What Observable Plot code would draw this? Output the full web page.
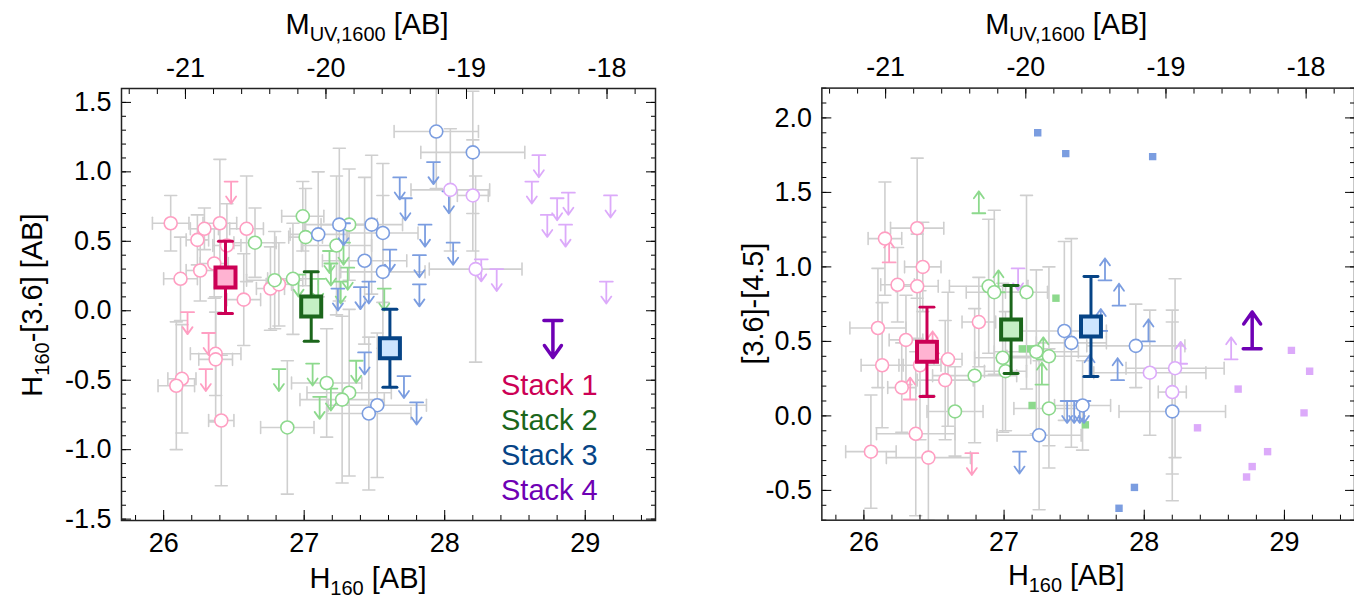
<!DOCTYPE html>
<html><head><meta charset="utf-8">
<script src="https://cdn.jsdelivr.net/npm/d3@7"></script>
<script src="https://cdn.jsdelivr.net/npm/@observablehq/plot@0.6"></script>
<style>
body{margin:0;background:#fff;overflow:hidden;width:1354px;height:601px;position:relative;font-family:"Liberation Sans",Arial,sans-serif}
#left{position:absolute;left:0;top:0}
#right{position:absolute;left:677px;top:0}
</style></head><body><div id="left"></div><div id="right"></div>
<script>
// ---------- data ----------
// [H160, value, xerr, yerr]  circles with error bars
// [H160, value]              limits (arrows) and squares
const M_OFFSET = 47.155; // H160 - M_UV,1600
const xDomain = [25.7, 29.5];
const xMajor = [26, 27, 28, 29];
const mMajor = [-21, -20, -19, -18];
const yDomainL = [-1.51, 1.6];
const yMajorL = [-1.5, -1.0, -0.5, 0.0, 0.5, 1.0, 1.5];
const yDomainR = [-0.7, 2.2];
const yMajorR = [-0.5, 0.0, 0.5, 1.0, 1.5, 2.0];
const stackNames = ["Stack 1", "Stack 2", "Stack 3", "Stack 4"];

const L_pinkCircles = [
 [26.05,0.63,0.13,0.20],[26.29,0.59,0.10,0.15],[26.24,0.51,0.08,0.18],[26.40,0.63,0.12,0.46],
 [26.59,0.59,0.12,0.38],[26.12,0.23,0.12,0.30],[26.26,0.29,0.10,0.22],[26.36,0.34,0.10,0.25],
 [26.57,0.08,0.12,0.33],[26.76,0.16,0.10,0.30],[26.82,0.19,0.09,0.30],[26.37,-0.31,0.18,0.30],
 [26.37,-0.35,0.12,0.45],[26.13,-0.49,0.10,0.39],[26.09,-0.54,0.13,0.46],[26.41,-0.79,0.09,0.47],
 [26.45,0.47,0.10,0.30]];
const L_pinkUpper = [[26.48,0.93],[26.17,-0.01],[26.32,-0.16],[26.30,-0.42]];
const L_greenCircles = [
 [26.99,0.68,0.15,0.25],[27.01,0.53,0.12,0.35],[26.65,0.49,0.15,0.25],[27.32,0.62,0.20,0.40],
 [27.23,0.47,0.25,0.50],[26.79,0.22,0.20,0.35],[26.92,0.23,0.18,0.40],[27.16,-0.52,0.25,0.39],
 [27.32,-0.59,0.30,0.60],[27.27,-0.64,0.30,0.60],[26.88,-0.84,0.19,0.48]];
const L_greenUpper = [[27.18,0.43],[27.28,0.49],[27.19,0.34],[27.31,0.31],[27.26,0.21],[26.96,0.26],
 [27.10,0.23],[27.57,0.16],[26.82,-0.42],[27.06,-0.38],[27.11,-0.62],[27.19,-0.56],[27.37,-0.36]];
const L_blueCircles = [
 [27.10,0.55,0.20,0.45],[27.25,0.62,0.25,0.55],[27.48,0.62,0.22,0.50],[27.56,0.56,0.25,0.50],
 [27.43,0.36,0.30,0.60],[27.56,0.28,0.30,0.55],[27.94,1.29,0.30,0.41],[28.20,1.14,0.37,0.44],
 [27.52,-0.68,0.35,0.52],[27.46,-0.74,0.30,0.55]];
const L_blueUpper = [[27.28,0.63],[27.72,0.81],[27.86,0.62],[27.61,0.44],[27.82,0.40],[27.82,0.19],
 [27.24,0.16],[27.40,0.17],[27.46,0.21],[27.92,1.07],[27.68,0.96],[28.03,0.86],[28.06,0.49],
 [27.43,-0.30],[27.71,-0.47],[27.80,-0.66]];
const L_purpleCircles = [[28.04,0.87,0.28,0.44],[28.20,0.83,0.11,0.40],[28.22,0.30,0.33,0.67]];
const L_purpleUpper = [[28.67,1.12],[28.62,0.93],[28.80,0.81],[28.88,0.85],[28.73,0.69],[28.86,0.62],
 [29.18,0.83],[28.26,0.37],[28.37,0.30],[29.15,0.21]];
const L_stacks = [[26.44,0.24,0.26],[27.05,0.03,0.25],[27.61,-0.27,0.28]];
const L_stack4 = [[28.77,-0.07]];

const R_pinkCircles = [
 [26.15,1.19,0.12,0.38],[26.38,1.26,0.19,0.47],[26.42,1.00,0.13,0.30],[26.24,0.88,0.12,0.25],
 [26.38,0.87,0.15,0.35],[26.10,0.59,0.20,0.40],[26.30,0.51,0.12,0.30],[26.13,0.34,0.15,0.42],
 [26.27,0.19,0.10,0.30],[26.60,0.38,0.10,0.45],[26.58,0.24,0.20,0.40],[26.40,0.34,0.15,0.50],
 [26.37,-0.12,0.28,0.55],[26.05,-0.24,0.18,0.38],[26.46,-0.28,0.30,0.42],[26.82,0.63,0.12,0.30]];
const R_pinkLower = [[26.18,1.03],[26.33,0.11],[26.49,0.42]];
const R_pinkUpper = [[26.77,-0.25]];
const R_greenCircles = [
 [26.89,0.87,0.28,0.45],[26.93,0.83,0.20,0.55],[27.16,0.83,0.15,0.65],[26.79,0.27,0.30,0.45],
 [26.99,0.39,0.20,0.50],[27.01,0.30,0.15,0.40],[26.65,0.03,0.20,0.30],[27.23,0.43,0.30,0.55],
 [27.32,0.40,0.30,0.60],[27.32,0.05,0.25,0.40]];
const R_greenLower = [[26.82,1.36],[26.96,0.83],[27.28,0.38],[27.27,0.21]];
const R_greenSquares = [[27.37,0.79],[27.13,0.45],[27.19,0.45],[27.20,0.07],[27.58,-0.06]];
const R_blueCircles = [[27.43,0.57,0.30,0.60],[27.48,0.49,0.25,0.70],[27.25,-0.13,0.30,0.50],
 [27.94,0.47,0.35,0.28],[28.20,0.03,0.38,0.60],[27.56,0.07,0.20,0.30]];
const R_blueLower = [[27.72,0.91],[27.82,0.74],[28.03,0.50],[27.81,0.24],[27.69,0.57],[27.61,0.26]];
const R_blueUpper = [[27.45,0.10],[27.50,0.10],[27.54,0.10],[27.57,0.10],[27.11,-0.24]];
const R_blueSquares = [[27.24,1.90],[27.44,1.76],[28.06,1.74],[27.93,-0.48],[27.82,-0.62]];
const R_purpleCircles = [[28.04,0.29,0.40,0.42],[28.22,0.32,0.35,0.60],[28.20,0.16,0.10,0.55]];
const R_purpleLower = [[28.26,0.35],[28.62,0.38]];
const R_purpleUpper = [[27.10,0.99]];
const R_purpleSquares = [[29.05,0.44],[29.18,0.30],[28.67,0.18],[29.14,0.02],[28.38,-0.08],
 [28.88,-0.24],[28.77,-0.34],[28.73,-0.41]];
const R_stacks = [[26.45,0.43,0.30],[27.05,0.58,0.295],[27.62,0.60,0.335]];
const R_stack4 = [[28.77,0.45]];

// ---------- styles ----------
const C = {pink:"#ff9ec2", green:"#8dd98d", blue:"#7b9de0", purple:"#dcaafa"};
const STACK_STROKE = ["#cc0055", "#1b661b", "#064486", "#6e00b4"];
const STACK_FILL = ["#ffb3d2", "#c4f0c4", "#cde5ff"];
const ERR = "#cfcfcf";
const FONT = "'Liberation Sans', Arial, Helvetica, sans-serif";
const TICK_FS = 27, TITLE_FS = 29, SUB_FS = 20;

const capShape = {draw(ctx, l) { ctx.moveTo(-l / 2, 0); ctx.lineTo(l / 2, 0); }};
const limitArrow = {draw(ctx, l) {
  ctx.moveTo(-6.5, 0); ctx.lineTo(6.5, 0);
  ctx.moveTo(0, 0); ctx.lineTo(0, -l);
  ctx.moveTo(-5, -l + 7); ctx.lineTo(0, -l); ctx.lineTo(5, -l + 7);
}};
const bigArrow = {draw(ctx, l) {
  ctx.moveTo(-9, 0); ctx.lineTo(9, 0);
  ctx.moveTo(0, 0); ctx.lineTo(0, -l);
  ctx.moveTo(-8.5, -l + 12); ctx.lineTo(0, -l); ctx.lineTo(8.5, -l + 12);
}};

const X = d => d[0], Y = d => d[1];

function errorBars(pts) {
  const s = {stroke: ERR, strokeWidth: 1.6, clip: true};
  return [
    Plot.link(pts, {x1: d => d[0] - d[2], x2: d => d[0] + d[2], y1: Y, y2: Y, ...s}),
    Plot.link(pts, {x1: X, x2: X, y1: d => d[1] - d[3], y2: d => d[1] + d[3], ...s}),
    Plot.vector(pts, {x: d => d[0] - d[2], y: Y, rotate: 90, length: 12, anchor: "start", shape: capShape, ...s}),
    Plot.vector(pts, {x: d => d[0] + d[2], y: Y, rotate: 90, length: 12, anchor: "start", shape: capShape, ...s}),
    Plot.vector(pts, {x: X, y: d => d[1] - d[3], rotate: 0, length: 12, anchor: "start", shape: capShape, ...s}),
    Plot.vector(pts, {x: X, y: d => d[1] + d[3], rotate: 0, length: 12, anchor: "start", shape: capShape, ...s})
  ];
}

function groupMarks(g) {
  const m = [];
  if (g.squares) m.push(Plot.dot(g.squares, {x: X, y: Y, symbol: "square", r: 4.2, fill: g.color, clip: true}));
  if (g.upper) m.push(Plot.vector(g.upper, {x: X, y: Y, rotate: 180, length: 22, anchor: "start", shape: limitArrow, stroke: g.color, strokeWidth: 1.8, clip: true}));
  if (g.lower) m.push(Plot.vector(g.lower, {x: X, y: Y, rotate: 0, length: 22, anchor: "start", shape: limitArrow, stroke: g.color, strokeWidth: 1.8, clip: true}));
  if (g.circles) m.push(Plot.dot(g.circles, {x: X, y: Y, r: 6.5, stroke: g.color, fill: "white", strokeWidth: 1.6, clip: true}));
  return m;
}

function stackMarks(stacks, stack4, rot) {
  const m = [];
  stacks.forEach((s, i) => {
    const d = [s];
    const st = {stroke: STACK_STROKE[i], strokeWidth: 3};
    m.push(Plot.link(d, {x1: X, x2: X, y1: v => v[1] - v[2], y2: v => v[1] + v[2], ...st}));
    m.push(Plot.vector(d, {x: X, y: v => v[1] - v[2], length: 14, anchor: "start", shape: capShape, ...st}));
    m.push(Plot.vector(d, {x: X, y: v => v[1] + v[2], length: 14, anchor: "start", shape: capShape, ...st}));
    m.push(Plot.dot(d, {x: X, y: Y, symbol: "square", r: 11.3, fill: STACK_FILL[i], stroke: STACK_STROKE[i], strokeWidth: 4}));
  });
  m.push(Plot.vector(stack4, {x: X, y: Y, rotate: rot, length: 37, anchor: "start", shape: bigArrow, stroke: STACK_STROKE[3], strokeWidth: 3.5}));
  return m;
}

function range(a, b, step) { // tick positions
  const out = []; for (let v = a; v <= b + 1e-9; v += step) out.push(Math.round(v * 100) / 100); return out;
}

function axes(yMajor, yMinor) {
  const mPos = mMajor.map(m => m + M_OFFSET);
  const mMinorPos = range(-21.4, -17.8, 0.2).map(m => m + M_OFFSET).filter(h => h >= xDomain[0] && h <= xDomain[1]);
  const xMinor = range(25.8, 29.4, 0.2);
  const blank = () => "";
  return [
    Plot.axisX({anchor: "bottom", ticks: xMinor, tickSize: -5, tickFormat: blank, label: null}),
    Plot.axisX({anchor: "bottom", ticks: xMajor, tickSize: -10, tickFormat: blank, label: null}),
    Plot.axisX({anchor: "bottom", ticks: xMajor, tickSize: 0, tickPadding: 12, tickFormat: d => String(d), label: null, fontSize: TICK_FS}),
    Plot.axisX({anchor: "top", ticks: mMinorPos, tickSize: -5, tickFormat: blank, label: null}),
    Plot.axisX({anchor: "top", ticks: mPos, tickSize: -10, tickFormat: blank, label: null}),
    Plot.axisX({anchor: "top", ticks: mPos, tickSize: 0, tickPadding: 12, tickFormat: d => String(Math.round(d - M_OFFSET)), label: null, fontSize: TICK_FS}),
    Plot.axisY({anchor: "left", ticks: yMinor, tickSize: -5, tickFormat: blank, label: null}),
    Plot.axisY({anchor: "left", ticks: yMajor, tickSize: -10, tickFormat: blank, label: null}),
    Plot.axisY({anchor: "left", ticks: yMajor, tickSize: 0, tickPadding: 10, tickFormat: d => d.toFixed(1), label: null, fontSize: TICK_FS}),
    Plot.axisY({anchor: "right", ticks: yMinor, tickSize: -5, tickFormat: blank, label: null}),
    Plot.axisY({anchor: "right", ticks: yMajor, tickSize: -10, tickFormat: blank, label: null}),
    Plot.frame({stroke: "#222", strokeWidth: 1.5})
  ];
}

function panel(cfg) {
  const circlesAll = cfg.groups.flatMap(g => g.circles || []);
  const marks = [
    ...errorBars(circlesAll),
    ...cfg.groups.flatMap(groupMarks),
    ...stackMarks(cfg.stacks, cfg.stack4, cfg.rot),
    ...axes(cfg.yMajor, cfg.yMinor)
  ];
  return Plot.plot({
    width: cfg.width, height: 601,
    marginLeft: cfg.marginLeft, marginRight: cfg.marginRight, marginTop: 88, marginBottom: cfg.marginBottom,
    x: {domain: xDomain},
    y: {domain: cfg.yDomain},
    style: {fontFamily: FONT, fontSize: TICK_FS + "px", color: "#000", background: "transparent", overflow: "visible"},
    marks
  });
}

function subText(svg, x, y, parts, opts = {}) {
  const t = d3.select(svg).append("text")
    .attr("x", x).attr("y", y)
    .attr("font-family", FONT).attr("font-size", TITLE_FS).attr("fill", "#000")
    .attr("text-anchor", opts.anchor || "middle");
  if (opts.rotate) t.attr("transform", `rotate(-90 ${x} ${y})`);
  parts.forEach(([txt, sub], i) => {
    const ts = t.append("tspan").text(txt);
    if (sub) ts.attr("font-size", SUB_FS).attr("dy", 7);
    else if (i > 0) ts.attr("dy", -7);
  });
  return t;
}

// ---------- left panel ----------
const left = panel({
  width: 680, marginLeft: 121, marginRight: 25, marginBottom: 81,
  yDomain: yDomainL, yMajor: yMajorL, yMinor: range(-1.5, 1.6, 0.1),
  groups: [
    {color: C.pink, circles: L_pinkCircles, upper: L_pinkUpper},
    {color: C.green, circles: L_greenCircles, upper: L_greenUpper},
    {color: C.blue, circles: L_blueCircles, upper: L_blueUpper},
    {color: C.purple, circles: L_purpleCircles, upper: L_purpleUpper}
  ],
  stacks: L_stacks, stack4: L_stack4, rot: 180
});
document.getElementById("left").appendChild(left);
subText(left, 367, 34, [["M"], ["UV,1600", true], [" [AB]"]]);
subText(left, 368, 588, [["H"], ["160", true], [" [AB]"]]);
subText(left, 42, 305, [["H"], ["160", true], ["-[3.6] [AB]"]], {rotate: true});
stackNames.forEach((s, i) => {
  d3.select(left).append("text").attr("x", 501).attr("y", 395 + 35 * i)
    .attr("text-anchor", "start")
    .attr("font-family", FONT).attr("font-size", 29).attr("fill", STACK_STROKE[i]).text(s);
});

// ---------- right panel ----------
const right = panel({
  width: 680, marginLeft: 145, marginRight: 0, marginBottom: 79,
  yDomain: yDomainR, yMajor: yMajorR, yMinor: range(-0.7, 2.2, 0.1),
  groups: [
    {color: C.pink, circles: R_pinkCircles, lower: R_pinkLower, upper: R_pinkUpper},
    {color: C.green, circles: R_greenCircles, lower: R_greenLower, squares: R_greenSquares},
    {color: C.blue, circles: R_blueCircles, lower: R_blueLower, upper: R_blueUpper, squares: R_blueSquares},
    {color: C.purple, circles: R_purpleCircles, lower: R_purpleLower, upper: R_purpleUpper, squares: R_purpleSquares}
  ],
  stacks: R_stacks, stack4: R_stack4, rot: 0
});
document.getElementById("right").appendChild(right);
subText(right, 391, 34, [["M"], ["UV,1600", true], [" [AB]"]]);
subText(right, 391, 588, [["H"], ["160", true], [" [AB]"]]);
subText(right, 86, 305, [["[3.6]-[4.5]"]], {rotate: true});
</script></body></html>
